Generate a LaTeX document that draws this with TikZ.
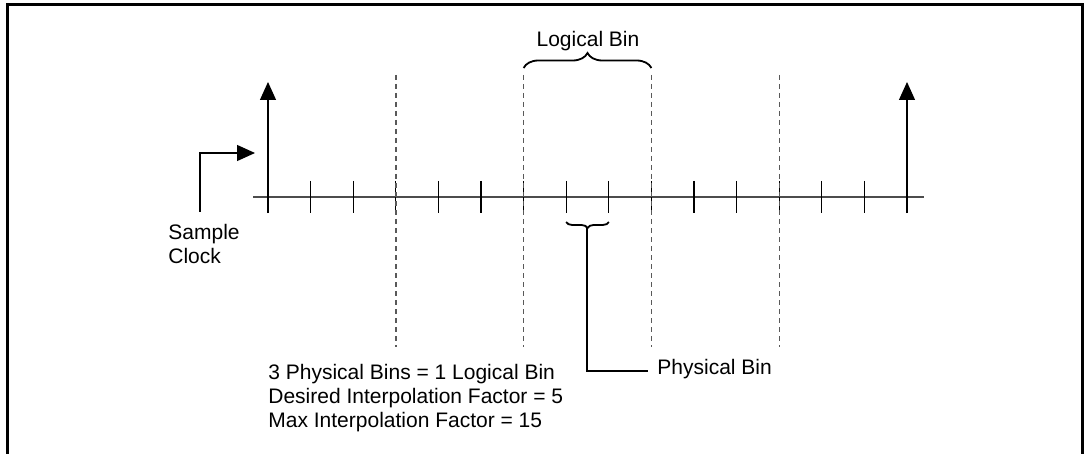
\documentclass[tikz,border=0pt]{standalone}
\usepackage{fontspec}
\setmainfont{Liberation Sans}
\usetikzlibrary{arrows.meta,decorations.pathreplacing,positioning}
\tikzset{
  marco/.style={line width=1.5pt},
  eje/.style={line width=0.7pt,black!70},
  marca/.style={line width=0.6pt},
  limite/.style={line width=0.7pt,black!65,dash pattern=on 2.5pt off 2pt},
  flecha/.style={line width=0.6pt,-{Triangle[length=9pt,width=8pt]}},
  guia/.style={line width=1.1pt},
  texto/.style={font=\fontsize{10.5pt}{12pt}\selectfont,inner sep=0pt,align=left},
  llave/.style={decorate,decoration={brace,amplitude=#1},line width=0.9pt},
}

\begin{document}
\begin{tikzpicture}[x=0.5pt,y=-0.5pt]
  \useasboundingbox (0,0) rectangle (1085,454);
  \draw[marco] (7,454) -- (7,5) -- (1082,5) -- (1082,454);

  % eje de tiempo
  \coordinate (ejeA) at (253,197);
  \coordinate (ejeB) at (924,197);
  \draw[eje] (ejeA) -- (ejeB);
  \foreach \i in {0,...,15}{
    \coordinate (t\i) at ({268+42.6*\i},197);
    \draw[marca] ([yshift=8pt]t\i) -- ([yshift=-8pt]t\i);
  }
  \foreach \i in {3,6,9,12}
    \draw[limite] (t\i |- 0,75) -- (t\i |- 0,347);

  % pulsos del reloj
  \draw[flecha] ([yshift=-8pt]t0) -- (t0 |- 0,82);
  \draw[flecha] ([yshift=-8pt]t15) -- (t15 |- 0,82);

  % Sample Clock
  \coordinate (relojA) at (200,212);
  \coordinate (relojB) at (255,153);
  \draw[flecha] (relojA) |- (relojB);
  \node[texto,anchor=base west] (reloj) at (168,263) {Sample\\Clock};

  % Logical Bin
  \draw[llave=7.5pt] (t6 |- 0,68) -- (t9 |- 0,68);
  \node[texto,anchor=base] (logico) at (588,47) {Logical Bin};

  % Physical Bin
  \draw[llave=3pt] (t8 |- 0,222) -- (t7 |- 0,222);
  \coordinate (puntaF) at (587,228);
  \coordinate (finF) at (648,371);
  \draw[guia] (puntaF) |- (finF);
  \node[texto,anchor=base west] (fisico) at (657,374) {Physical Bin};

  \node[texto,anchor=base west] (factores) at (268,427) {3 Physical Bins = 1 Logical Bin\\Desired Interpolation Factor = 5\\Max Interpolation Factor = 15};
\end{tikzpicture}
\end{document}
